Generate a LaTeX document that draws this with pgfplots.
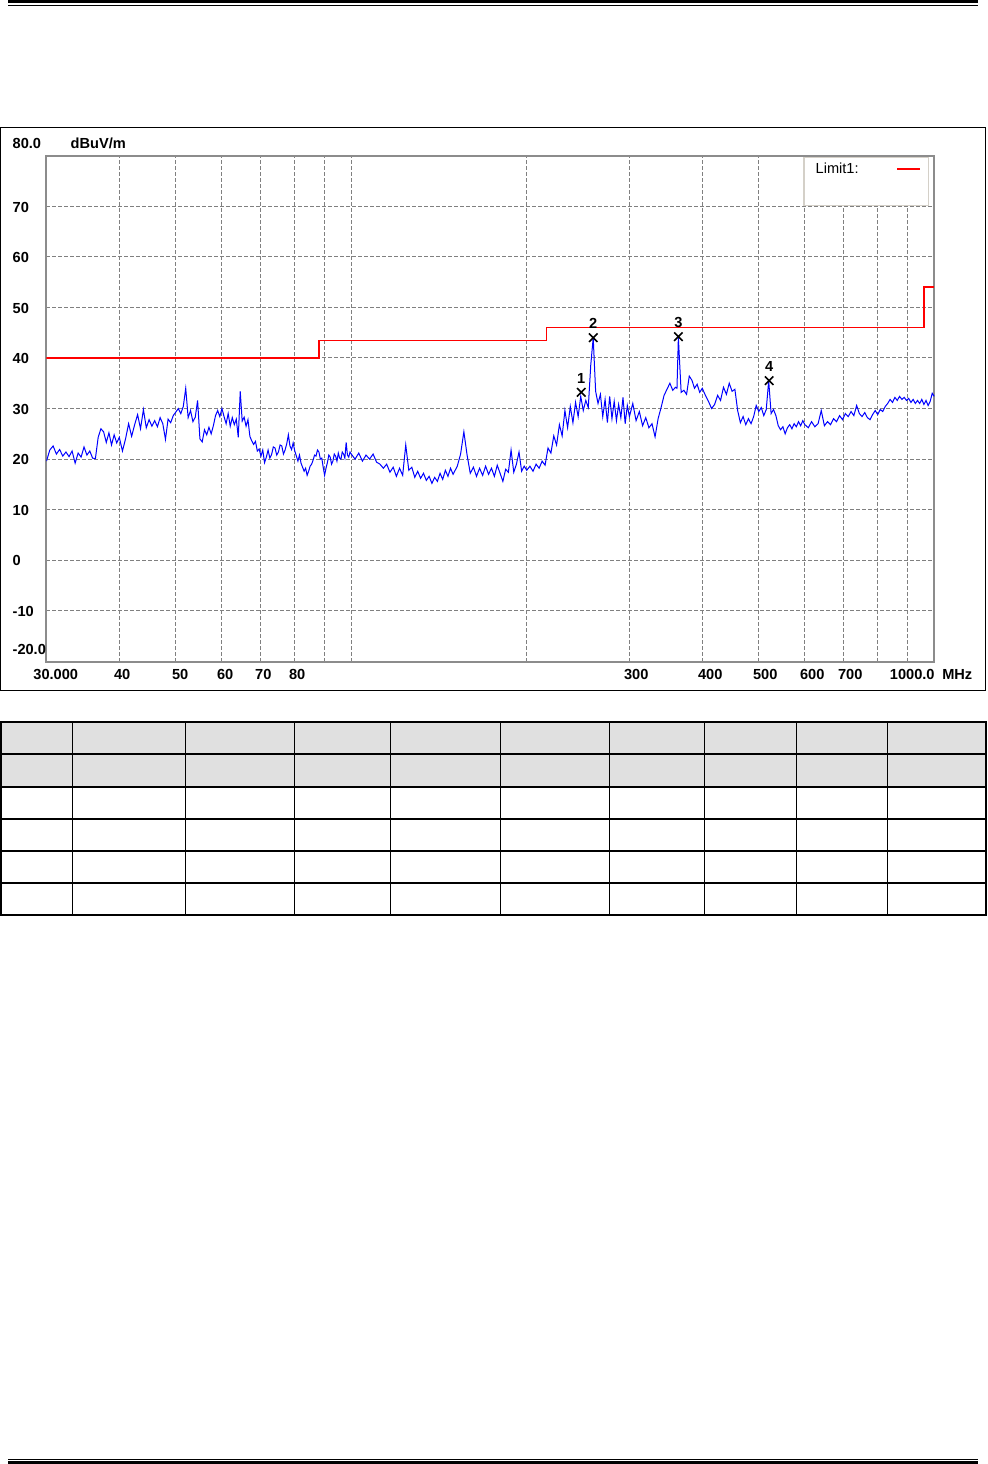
\documentclass[border=0pt]{standalone}
\usepackage{fontspec}
\setmainfont{Liberation Sans}
\usepackage{pgfplots}
\usepackage{pgfplotstable}
\pgfplotsset{compat=1.18}
\definecolor{gridgray}{RGB}{128,128,128}
\definecolor{framegray}{RGB}{140,140,140}
\definecolor{tablegray}{RGB}{224,224,224}
\definecolor{legborder}{RGB}{212,208,200}
\definecolor{tracecol}{RGB}{0,0,255}
\definecolor{limitcol}{RGB}{255,0,0}

\pgfplotstableread{
f dB
30.0 19.6
30.4 21.8
30.8 22.6
31.2 21.0
31.6 21.9
32.0 20.6
32.4 21.4
32.8 20.5
33.2 21.6
33.6 19.2
34.0 21.2
34.4 20.4
34.8 22.4
35.2 20.8
35.6 21.6
36.0 20.2
36.4 20.1
36.8 24.3
37.2 26.0
37.6 25.4
38.0 23.3
38.4 25.2
38.8 22.8
39.2 24.8
39.6 23.2
40.0 24.3
40.5 21.6
41 24.0
41.5 27.0
42 24.5
42.5 26.8
43 28.8
43.5 26.0
44 29.8
44.5 26.2
45 27.8
45.5 26.5
46 27.6
46.5 26.4
47 28.2
47.5 27.0
48 23.9
48.5 27.9
49 27.2
49.5 28.6
50 29.3
50.5 30.0
51 29.0
51.5 30.4
52 34.0
52.5 28.2
53 29.6
53.5 27.4
54 28.3
54.5 31.6
55 24.0
55.5 23.4
56 25.8
56.5 24.8
57 26.3
57.5 25.0
58 26.6
58.5 28.6
59 29.6
59.5 28.4
60 30.0
60.5 28.4
61 27.0
61.5 29.0
62 26.5
62.5 28.2
63 26.8
63.5 27.9
64 24.3
64.5 33.4
65 27.5
65.5 28.3
66 26.5
66.5 27.8
67 24.5
67.5 23.6
68 22.9
68.5 23.5
69 21.6
69.5 22.0
70 20.6
70.5 21.8
71 19.3
71.5 20.4
72 21.8
72.5 20.2
73 20.9
73.5 22.4
74 22.2
74.5 20.8
75 21.4
75.5 22.8
76 22.6
76.5 21.0
77 21.8
77.5 23.0
78 24.8
78.5 22.6
79 21.9
79.5 23.2
80 21.6
80.5 20.6
81 19.6
81.5 20.8
82 19.2
82.5 18.4
83 17.6
83.5 18.2
84 16.8
84.5 17.6
85 18.6
85.5 19.0
86 19.8
86.5 20.8
87 20.6
87.5 21.8
88 21.4
88.5 20.0
89 20.2
89.5 18.4
90 16.8
90.5 18.2
91 19.3
91.5 20.8
92 20.4
92.5 19.0
93 19.6
93.5 21.0
94 20.6
94.5 19.6
95 21.2
95.5 20.2
96 20.0
96.5 21.4
97 21.0
97.5 20.2
98 23.3
98.5 20.8
99 20.4
99.5 21.4
100 21.0
101.5 20.0
103 21.2
104.5 19.6
106 20.8
107.5 20.0
109 21.0
110.5 19.4
112 19.0
113.5 18.2
115 19.0
116.5 17.4
118 18.4
119.5 16.6
121 18.2
122.5 16.8
124 22.8
125.5 17.8
127 18.4
128.5 16.4
130 17.6
131.5 16.2
133 17.2
134.5 15.8
136 16.6
137.5 15.2
139 16.4
140.5 15.6
142 17.2
143.5 16.0
145 17.8
146.5 16.6
148 18.2
149.5 17.0
152 18.6
154 21.0
156 25.4
158 20.8
160 17.2
162 18.4
164 16.6
166 18.2
168 16.8
170 18.6
172 17.0
174 18.2
176 16.6
178 18.8
180 17.2
182 15.6
184 18.0
186 17.4
188 21.8
190 17.4
192 19.0
194 21.4
196 17.6
198 18.6
200 17.8
202.5 18.6
205 17.6
207.5 19.0
210 18.2
212.5 19.6
215 18.8
217.5 22.2
220 21.2
222.5 24.6
225 22.8
227.5 26.8
230 24.6
232.5 29.6
235 26.2
237.5 30.4
240 27.2
242.5 31.2
245 28.4
247.5 32.4
250 29.6
252.5 31.6
255 30.2
257.5 38.6
260 44.0
262.5 33.4
265 31.0
267.5 32.8
270 28.4
272.5 31.8
275 27.2
277.5 32.4
280 28.0
282.5 31.4
285 27.6
287.5 30.8
290 28.2
292.5 32.2
295 27.0
297.5 30.6
300 28.4
304 31.0
308 27.6
312 29.4
316 26.6
320 28.2
324 26.2
328 27.0
332 24.4
336 28.0
340 30.2
344 32.6
348 33.8
352 35.0
356 33.6
360 34.2
362 34.0
364 44.0
368 33.2
372 33.6
376 32.8
380 36.4
384 35.6
388 34.0
392 34.8
396 33.2
400 34.0
405 32.6
410 31.4
415 30.0
420 30.8
425 32.6
430 31.6
435 34.2
440 32.8
445 35.0
450 33.4
455 33.8
460 29.6
465 27.2
470 28.4
475 26.8
480 28.0
485 27.0
490 28.4
495 30.6
500 29.4
505 30.2
510 28.6
515 29.8
520 35.5
525 29.0
530 29.8
535 28.6
540 26.6
545 25.8
550 26.4
555 25.0
560 26.2
565 26.8
570 26.0
575 27.0
580 26.4
585 27.4
590 26.6
595 27.6
600 26.8
608 26.2
616 27.4
624 26.4
632 27.0
640 29.6
648 26.6
656 27.4
664 26.8
672 28.0
680 27.4
688 28.6
696 27.8
704 29.0
712 28.4
720 29.4
728 28.6
736 30.6
744 29.0
752 28.4
760 29.2
768 28.2
776 27.8
784 28.8
792 29.6
800 28.8
808 29.8
816 29.4
824 30.4
832 31.0
840 31.8
848 31.2
856 32.2
864 31.6
872 32.4
880 31.8
888 32.2
896 31.6
904 32.0
912 31.2
920 31.8
928 31.0
936 31.6
944 31.0
952 31.8
960 30.8
968 31.6
976 30.6
984 31.4
992 33.0
1000 32.4
}\tracedata

\tikzset{lab/.style={font=\bfseries\fontsize{7.3}{8}\selectfont, inner sep=0pt}}

\begin{document}
\begin{tikzpicture}
\begin{scope}[x=0.5pt,y=-0.5pt]
\useasboundingbox (0,0) rectangle (987,1464);
% header double line
\draw[line width=1.5pt] (8,1.5) -- (978,1.5);
\draw[line width=0.75pt] (8,5.5) -- (978,5.5);
% chart outer box
\draw[line width=0.5pt] (0.5,127.5) rectangle (985.5,690);
\end{scope}

\begin{axis}[
  at={(23.1pt,-77.75pt)}, anchor=north west,
  scale only axis, width=443.9pt, height=253pt,
  xmode=log, xmin=30, xmax=1000, ymin=-20, ymax=80,
  xtick={40,50,60,70,80,90,100,200,300,400,500,600,700,800,900},
  minor xtick={},
  ytick={-10,0,10,20,30,40,50,60,70},
  xticklabels={,,}, yticklabels={,,},
  major tick length=0pt,
  grid=major,
  major grid style={gridgray, line width=0.5pt, dash pattern=on 1.6pt off 1.4pt},
  axis line style={framegray, line width=1pt},
]
\addplot[limitcol, line width=0.7pt] coordinates {(30,40) (88,40) (88,43.5) (216,43.5) (216,46) (960,46) (960,54) (1000,54)};
\addplot[tracecol, line width=0.5pt] table[x=f,y=dB]{\tracedata};
\addplot[only marks, mark=x, mark size=3pt, black, line width=0.8pt,
  point meta=explicit symbolic, nodes near coords,
  nodes near coords style={font=\bfseries\fontsize{7.3}{8}\selectfont, anchor=south, yshift=4pt, inner sep=0pt}]
  coordinates {(248,33.2) [1] (260,44.0) [2] (364,44.2) [3] (521,35.5) [4]};
\end{axis}

\begin{scope}[x=0.5pt,y=-0.5pt]
% legend
\draw[legborder, line width=0.75pt, fill=white] (803.5,157.5) rectangle (928,205.5);
\node[anchor=base west, font=\fontsize{7.3}{8}\selectfont, inner sep=0pt] at (815,173) {Limit1:};
\draw[limitcol, line width=0.6pt] (897,169) -- (920,169);
% y labels
\node[lab, anchor=base west] at (12,148) {80.0};
\node[lab, anchor=base west] at (70,148) {dBuV/m};
\node[lab, anchor=base west] at (12,212) {70};
\node[lab, anchor=base west] at (12,262) {60};
\node[lab, anchor=base west] at (12,313) {50};
\node[lab, anchor=base west] at (12,363) {40};
\node[lab, anchor=base west] at (12,414) {30};
\node[lab, anchor=base west] at (12,464) {20};
\node[lab, anchor=base west] at (12,515) {10};
\node[lab, anchor=base west] at (12,565) {0};
\node[lab, anchor=base west] at (12,616) {-10};
\node[lab, anchor=base west] at (12,654) {-20.0};
% x labels
\node[lab, anchor=base] at (55.5,679) {30.000};
\node[lab, anchor=base] at (122,679) {40};
\node[lab, anchor=base] at (180,679) {50};
\node[lab, anchor=base] at (225,679) {60};
\node[lab, anchor=base] at (263,679) {70};
\node[lab, anchor=base] at (297,679) {80};
\node[lab, anchor=base] at (636,679) {300};
\node[lab, anchor=base] at (710,679) {400};
\node[lab, anchor=base] at (765,679) {500};
\node[lab, anchor=base] at (812,679) {600};
\node[lab, anchor=base] at (850,679) {700};
\node[lab, anchor=base] at (912,679) {1000.0};
\node[lab, anchor=base] at (957,679) {MHz};
% table
\fill[tablegray] (0.5,722) rectangle (985.5,787);
\foreach \yy in {754,787,819,851,883} \draw[line width=0.75pt] (0.5,\yy) -- (985.5,\yy);
\foreach \xx in {72,294,500,704,887} \draw[line width=0.75pt] (\xx,722) -- (\xx,915);
\foreach \xx in {185,390,609,796} \draw[line width=0.5pt] (\xx,722) -- (\xx,915);
\draw[line width=0.75pt] (0.5,722) rectangle (985.5,915);
% footer double line
\draw[line width=0.6pt] (8,1459.5) -- (978,1459.5);
\draw[line width=1.25pt] (8,1462.6) -- (978,1462.6);
\end{scope}
\end{tikzpicture}
\end{document}
